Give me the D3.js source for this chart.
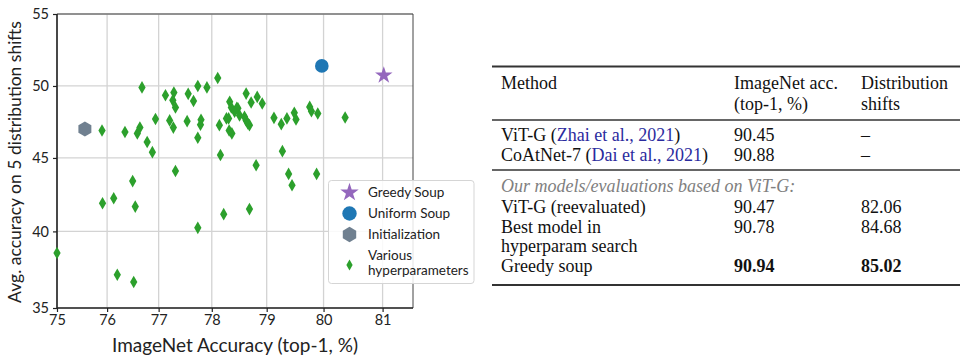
<!DOCTYPE html>
<html><head><meta charset="utf-8">
<script src="https://cdn.jsdelivr.net/npm/d3@7"></script>
<style>
body{margin:0;background:#fff;}
svg{display:block;}
</style></head>
<body>
<svg id="c" width="973" height="363"></svg>
<script>
// ---------- DATA ----------
const xTicks = [75, 76, 77, 78, 79, 80, 81];
const yTicks = [35, 40, 45, 50, 55];
const xDomain = [75, 81.5];
const yDomain = [35, 55];

const variousX = [75.90,76.35,76.59,76.64,76.78,76.88,76.68,76.94,77.13,77.29,77.27,77.32,77.21,77.28,77.54,77.56,77.66,77.74,77.91,78.11,
  77.80,77.79,77.74,77.32,78.16,78.14,78.31,78.33,78.36,78.48,78.51,78.63,78.72,78.83,78.92,78.32,78.37,78.63,78.69,78.81,
  79.13,79.26,79.36,79.49,79.52,79.76,79.79,79.90,80.37,79.28,79.39,79.45,79.88,78.69,76.50,76.13,75.91,76.55,75.00,76.20,
  76.52,77.74,78.22,78.27,78.46,78.60,78.66,78.42];
const variousY = [46.9,46.8,46.7,47.1,46.1,45.4,49.9,47.7,49.35,49.54,49.0,48.5,47.6,47.1,47.55,49.45,48.95,50.0,49.9,50.56,
  47.65,47.3,46.4,44.1,45.2,47.27,47.74,48.9,48.5,48.45,47.95,49.47,48.85,49.24,48.78,46.9,46.7,47.6,47.27,44.5,
  47.78,47.34,47.74,48.13,47.67,48.54,48.24,48.08,47.8,45.47,43.9,43.12,43.9,41.5,43.41,42.24,41.9,41.67,38.56,37.14,
  36.67,40.24,41.16,47.74,48.47,47.85,47.39,48.2];
const greedySoup = [81.02, 50.74];
const uniformSoup = [79.97, 51.4];
const initialization = [75.56, 47.0];

const legendLabels = ["Greedy Soup", "Uniform Soup", "Initialization", ["Various", "hyperparameters"]];

const tableHeader = [["Method"], ["ImageNet acc.", "(top-1, %)"], ["Distribution", "shifts"]];
const tableRows1 = [
  {pre: "ViT-G (", cite: "Zhai et al., 2021", post: ")", acc: "90.45", shift: "–"},
  {pre: "CoAtNet-7 (", cite: "Dai et al., 2021", post: ")", acc: "90.88", shift: "–"}
];
const tableSection = "Our models/evaluations based on ViT-G:";
const tableRows2 = [
  {lines: ["ViT-G (reevaluated)"], acc: "90.47", shift: "82.06", bold: false},
  {lines: ["Best model in", "hyperparam search"], acc: "90.78", shift: "84.68", bold: false},
  {lines: ["Greedy soup"], acc: "90.94", shift: "85.02", bold: true}
];

// ---------- CHART ----------
const svg = d3.select("#c");
const logit = p => Math.log(p / (1 - p));
const L = 57, R = 413, T = 14, B = 308;
const xLin = d3.scaleLinear().domain(xDomain.map(v => logit(v / 100))).range([L, R]);
const yLin = d3.scaleLinear().domain(yDomain.map(v => logit(v / 100))).range([B, T]);
const x = v => xLin(logit(v / 100));
const y = v => yLin(logit(v / 100));

const axisFont = "Lato, 'DejaVu Sans', sans-serif";

// grid
const g = svg.append("g");
g.selectAll("line.gx").data(xTicks).join("line")
  .attr("x1", d => x(d)).attr("x2", d => x(d)).attr("y1", T).attr("y2", B)
  .attr("stroke", "#d3d3d3").attr("stroke-width", 1.3);
g.selectAll("line.gy").data(yTicks).join("line")
  .attr("x1", L).attr("x2", R).attr("y1", d => y(d)).attr("y2", d => y(d))
  .attr("stroke", "#d3d3d3").attr("stroke-width", 1.3);

// frame top/right
svg.append("line").attr("x1", L).attr("x2", R).attr("y1", T).attr("y2", T).attr("stroke", "#444").attr("stroke-width", 1);
svg.append("line").attr("x1", R).attr("x2", R).attr("y1", T).attr("y2", B).attr("stroke", "#444").attr("stroke-width", 1);

// axes
const xAxis = svg.append("g").attr("transform", `translate(0,${B})`)
  .call(d3.axisBottom(xLin).tickValues(xTicks.map(t => logit(t / 100))).tickFormat((d, i) => xTicks[i]).tickSize(4).tickPadding(3));
const yAxis = svg.append("g").attr("transform", `translate(${L},0)`)
  .call(d3.axisLeft(yLin).tickValues(yTicks.map(t => logit(t / 100))).tickFormat((d, i) => yTicks[i]).tickSize(4).tickPadding(4));
[xAxis, yAxis].forEach(a => {
  a.select(".domain").attr("stroke", "#222").attr("stroke-width", 1.6);
  a.selectAll(".tick line").attr("stroke", "#222").attr("stroke-width", 1.2);
  a.selectAll(".tick text").attr("font-family", axisFont).attr("font-size", 14.5).attr("fill", "#222");
});
xAxis.select(".domain").attr("d", `M${L},0H${R}`);
yAxis.select(".domain").attr("d", `M0,${B}V${T}`);

// labels
svg.append("text").attr("x", (L + R) / 2).attr("y", 352).attr("text-anchor", "middle")
  .attr("font-family", axisFont).attr("font-size", 19).attr("fill", "#222").text("ImageNet Accuracy (top-1, %)");
svg.append("text").attr("transform", `translate(21,${(T + B) / 2 + 1}) rotate(-90)`).attr("text-anchor", "middle")
  .attr("font-family", axisFont).attr("font-size", 17.5).attr("fill", "#222").text("Avg. accuracy on 5 distribution shifts");

// markers
const hexType = {draw(ctx, size) {
  const r = Math.sqrt(size);
  for (let i = 0; i < 6; i++) {
    const a = Math.PI / 2 + i * Math.PI / 3;
    const px = r * Math.cos(a), py = r * Math.sin(a);
    i ? ctx.lineTo(px, py) : ctx.moveTo(px, py);
  }
  ctx.closePath();
}};
const diamond = d3.symbol().type(d3.symbolDiamond).size(46);
const pts = variousX.map((v, i) => [v, variousY[i]]);
svg.append("g").selectAll("path").data(pts).join("path")
  .attr("d", diamond).attr("transform", d => `translate(${x(d[0])},${y(d[1])})`)
  .attr("fill", "#2ca02c");
svg.append("path").attr("d", d3.symbol().type(hexType).size(56)())
  .attr("transform", `translate(${x(initialization[0])},${y(initialization[1])})`).attr("fill", "#708090");
svg.append("circle").attr("cx", x(uniformSoup[0])).attr("cy", y(uniformSoup[1])).attr("r", 6.8).attr("fill", "#1f77b4");
svg.append("path").attr("d", d3.symbol().type(d3.symbolStar).size(95)())
  .attr("transform", `translate(${x(greedySoup[0])},${y(greedySoup[1])})`).attr("fill", "#9467bd");

// legend
const lg = svg.append("g");
lg.append("rect").attr("x", 328.5).attr("y", 180.5).attr("width", 145.5).attr("height", 103).attr("rx", 3)
  .attr("fill", "#fff").attr("fill-opacity", 0.85).attr("stroke", "#d5d5d5").attr("stroke-width", 1);
const lx = 349.5, tx = 368;
const lgY = [192.5, 213.5, 234.5];
lg.append("path").attr("d", d3.symbol().type(d3.symbolStar).size(105)()).attr("transform", `translate(${lx},${lgY[0]})`).attr("fill", "#9467bd");
lg.append("circle").attr("cx", lx).attr("cy", lgY[1]).attr("r", 7.2).attr("fill", "#1f77b4");
lg.append("path").attr("d", d3.symbol().type(hexType).size(60)()).attr("transform", `translate(${lx},${lgY[2]})`).attr("fill", "#708090");
lg.append("path").attr("d", d3.symbol().type(d3.symbolDiamond).size(34)()).attr("transform", `translate(${lx},265)`).attr("fill", "#2ca02c");
legendLabels.slice(0, 3).forEach((t, i) => {
  lg.append("text").attr("x", tx).attr("y", lgY[i]).attr("dy", "0.35em").attr("font-family", axisFont)
    .attr("font-size", 13.5).attr("fill", "#222").text(t);
});
legendLabels[3].forEach((t, i) => {
  lg.append("text").attr("x", tx).attr("y", 255.5 + i * 15).attr("dy", "0.35em").attr("font-family", axisFont)
    .attr("font-size", 13.5).attr("fill", "#222").text(t);
});

// ---------- TABLE ----------
const tf = "'Liberation Serif', 'Times New Roman', serif";
const tfs = 18;
const colX = [501, 734, 861];
const tb = svg.append("g").attr("font-family", tf).attr("font-size", tfs).attr("fill", "#111");
const rule = (yy, w) => tb.append("line").attr("x1", 492).attr("x2", 960).attr("y1", yy).attr("y2", yy).attr("stroke", "#333").attr("stroke-width", w);
rule(66.5, 2.2); rule(120, 1.3); rule(170, 1.3); rule(285, 2.2);

tableHeader.forEach((lines, c) => lines.forEach((t, i) => {
  tb.append("text").attr("x", colX[c]).attr("y", 89 + i * 20.5).text(t);
}));
tableRows1.forEach((r, i) => {
  const yy = 141 + i * 20;
  const t = tb.append("text").attr("x", colX[0]).attr("y", yy);
  t.append("tspan").text(r.pre);
  t.append("tspan").attr("fill", "#2b2b9e").text(r.cite);
  t.append("tspan").text(r.post);
  tb.append("text").attr("x", colX[1]).attr("y", yy).text(r.acc);
  tb.append("text").attr("x", colX[2]).attr("y", yy).text(r.shift);
});
tb.append("text").attr("x", colX[0]).attr("y", 192).attr("font-style", "italic").attr("fill", "#808080").text(tableSection);
let ry = 213;
tableRows2.forEach(r => {
  r.lines.forEach((t, i) => tb.append("text").attr("x", colX[0]).attr("y", ry + i * 19.7).text(t));
  tb.append("text").attr("x", colX[1]).attr("y", ry).attr("font-weight", r.bold ? "bold" : null).text(r.acc);
  tb.append("text").attr("x", colX[2]).attr("y", ry).attr("font-weight", r.bold ? "bold" : null).text(r.shift);
  ry += r.lines.length * 19.7;
});
</script>
</body></html>
